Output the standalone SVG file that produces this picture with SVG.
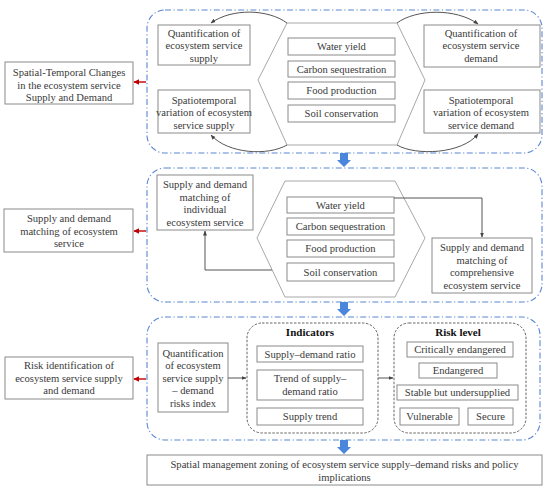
<svg xmlns="http://www.w3.org/2000/svg" width="550" height="490" viewBox="0 0 550 490">
<style>
  text { font-family: "Liberation Serif", "Times New Roman", serif; font-size: 10.6px; fill: #3a3a3a; text-anchor: middle; }
  .b { font-weight: bold; font-size: 11px; fill: #111; }
  .box { fill: #fff; stroke: #8a8a8a; stroke-width: 1; }
  .panel { fill: none; stroke: #5b87d2; stroke-width: 1.1; stroke-dasharray: 6 2.5 1.2 2.5; }
  .grp { fill: none; stroke: #555; stroke-width: 0.9; stroke-dasharray: 2.5 1.5; }
  .hex { fill: #fff; stroke: #a8a8a8; stroke-width: 1; }
  .con { fill: none; stroke: #555; stroke-width: 1; }
  .red { fill: none; stroke: #c00000; stroke-width: 1.4; }
  .blue { fill: #4a86dc; }
</style>
<defs>
  <marker id="ah" viewBox="0 0 10 10" refX="9" refY="5" markerWidth="5" markerHeight="5" orient="auto">
    <path d="M0,1 L10,5 L0,9 z" fill="#444"/>
  </marker>
  <marker id="rh" viewBox="0 0 10 10" refX="9" refY="5" markerWidth="4" markerHeight="4" orient="auto">
    <path d="M0,0 L10,5 L0,10 z" fill="#c00000"/>
  </marker>
</defs>
<rect width="550" height="490" fill="#fff"/>

<!-- panels -->
<g id="panel1"><rect class="panel" x="147" y="10" width="395" height="143" rx="18"/></g>
<g id="panel2"><rect class="panel" x="147" y="168" width="395" height="134" rx="18"/></g>
<g id="panel3"><rect class="panel" x="147" y="317" width="393" height="123" rx="18"/></g>

<!-- left boxes -->
<g id="left1">
  <rect class="box" x="5" y="62" width="128" height="42"/>
  <text x="69" y="76">Spatial-Temporal Changes</text>
  <text x="69" y="88.5">in the ecosystem service</text>
  <text x="69" y="101">Supply and Demand</text>
</g>
<g id="left2">
  <rect class="box" x="4" y="209" width="129" height="43"/>
  <text x="69" y="222">Supply and demand</text>
  <text x="69" y="234.5">matching of ecosystem</text>
  <text x="69" y="247">service</text>
</g>
<g id="left3">
  <rect class="box" x="5" y="357" width="128" height="42"/>
  <text x="69" y="369">Risk identification of</text>
  <text x="69" y="381.5">ecosystem service supply</text>
  <text x="69" y="394">and demand</text>
</g>

<!-- panel 1 -->
<g id="hex1">
  <polygon class="hex" points="287,23 397,23 425,80 397,145 287,145 258,80"/>
</g>
<g id="qsupply">
  <rect class="box" x="158" y="25" width="92" height="40"/>
  <text x="204" y="37">Quantification of</text>
  <text x="204" y="49">ecosystem service</text>
  <text x="204" y="61.5">supply</text>
</g>
<g id="ssupply">
  <rect class="box" x="158" y="90" width="92" height="43"/>
  <text x="204" y="103.5">Spatiotemporal</text>
  <text x="204" y="116">variation of ecosystem</text>
  <text x="204" y="128.5">service supply</text>
</g>
<g id="qdemand">
  <rect class="box" x="424" y="25" width="116" height="42"/>
  <text x="481" y="37">Quantification of</text>
  <text x="481" y="49">ecosystem service</text>
  <text x="481" y="61.5">demand</text>
</g>
<g id="sdemand">
  <rect class="box" x="424" y="90" width="116" height="43"/>
  <text x="481" y="103.5">Spatiotemporal</text>
  <text x="481" y="116">variation of ecosystem</text>
  <text x="481" y="128.5">service demand</text>
</g>
<g id="s1water"><rect class="box" x="288" y="38" width="107" height="17"/><text x="341.5" y="50">Water yield</text></g>
<g id="s1carbon"><rect class="box" x="288" y="61" width="107" height="16"/><text x="341.5" y="72.5">Carbon sequestration</text></g>
<g id="s1food"><rect class="box" x="288" y="82" width="107" height="17"/><text x="341.5" y="94">Food production</text></g>
<g id="s1soil"><rect class="box" x="288" y="105" width="107" height="17"/><text x="341.5" y="117">Soil conservation</text></g>

<!-- panel 2 -->
<g id="hex2">
  <polygon class="hex" points="285,181 395,181 425,238 395,297 285,297 257,238"/>
</g>
<g id="individual">
  <rect class="box" x="157" y="175" width="96" height="55"/>
  <text x="205" y="188">Supply and demand</text>
  <text x="205" y="200.5">matching of</text>
  <text x="205" y="213">individual</text>
  <text x="205" y="225.5">ecosystem service</text>
</g>
<g id="comprehensive">
  <rect class="box" x="432" y="238" width="100" height="55"/>
  <text x="482" y="251">Supply and demand</text>
  <text x="482" y="263.5">matching of</text>
  <text x="482" y="276">comprehensive</text>
  <text x="482" y="288.5">ecosystem service</text>
</g>
<g id="s2water"><rect class="box" x="287" y="197" width="107" height="16"/><text x="340.5" y="208.5">Water yield</text></g>
<g id="s2carbon"><rect class="box" x="287" y="218" width="107" height="17"/><text x="340.5" y="230">Carbon sequestration</text></g>
<g id="s2food"><rect class="box" x="287" y="240" width="107" height="17"/><text x="340.5" y="252">Food production</text></g>
<g id="s2soil"><rect class="box" x="287" y="263" width="107" height="18"/><text x="340.5" y="275.5">Soil conservation</text></g>

<!-- panel 3 -->
<g id="riskindex">
  <rect class="box" x="158" y="343" width="70" height="69"/>
  <text x="193" y="356.5">Quantification</text>
  <text x="193" y="369">of ecosystem</text>
  <text x="193" y="381.5">service supply</text>
  <text x="193" y="394">– demand</text>
  <text x="193" y="406.5">risks index</text>
</g>
<g id="indicators">
  <rect class="grp" x="247" y="323" width="131" height="110" rx="15"/>
  <text class="b" x="310" y="336">Indicators</text>
  <rect class="box" x="257" y="346" width="106" height="16"/>
  <text x="310" y="357.5">Supply–demand ratio</text>
  <rect class="box" x="257" y="370" width="106" height="30"/>
  <text x="310" y="382">Trend of supply–</text>
  <text x="310" y="394.5">demand ratio</text>
  <rect class="box" x="257" y="408" width="106" height="17"/>
  <text x="310" y="420">Supply trend</text>
</g>
<g id="risklevel">
  <rect class="grp" x="394" y="323" width="132" height="110" rx="15"/>
  <text class="b" x="458" y="336">Risk level</text>
  <rect class="box" x="407" y="342" width="106" height="15"/>
  <text x="460" y="353">Critically endangered</text>
  <rect class="box" x="419" y="363" width="78" height="15"/>
  <text x="458" y="374">Endangered</text>
  <rect class="box" x="397" y="385" width="121" height="15"/>
  <text x="457.5" y="396">Stable but undersupplied</text>
  <rect class="box" x="400" y="408" width="59" height="17"/>
  <text x="429.5" y="420">Vulnerable</text>
  <rect class="box" x="468" y="408" width="45" height="17"/>
  <text x="490.5" y="420">Secure</text>
</g>

<g id="final">
  <rect class="box" x="147" y="455" width="395" height="30"/>
  <text x="344.5" y="468">Spatial management zoning of ecosystem service supply–demand risks and policy</text>
  <text x="344.5" y="480.5">implications</text>
</g>

<!-- connectors -->
<g id="connectors">
  <path class="con" d="M287,23 C268,9 232,8 211,23" marker-end="url(#ah)"/>
  <path class="con" d="M287,145 C268,156 228,154 211,135" marker-end="url(#ah)"/>
  <path class="con" d="M397,23 C416,9 456,8 478,24" marker-end="url(#ah)"/>
  <path class="con" d="M397,145 C416,156 462,154 478,134" marker-end="url(#ah)"/>
  <path class="con" d="M394,198 H482 V237" marker-end="url(#ah)"/>
  <path class="con" d="M272,270 H205 V231" marker-end="url(#ah)"/>
  <path class="con" d="M228,378 H246" marker-end="url(#ah)"/>
  <path class="con" d="M378,378 H393" marker-end="url(#ah)"/>
  <path class="red" d="M146,82 H134" marker-end="url(#rh)"/>
  <path class="red" d="M146,231 H134" marker-end="url(#rh)"/>
  <path class="red" d="M146,379 H134" marker-end="url(#rh)"/>
  <polygon class="blue" points="340,153 348,153 348,160 351,160 344,167 337,160 340,160"/>
  <polygon class="blue" points="340,302 348,302 348,309 351,309 344,316 337,309 340,309"/>
  <polygon class="blue" points="340,440 348,440 348,447 351,447 344,454 337,447 340,447"/>
</g>
</svg>
